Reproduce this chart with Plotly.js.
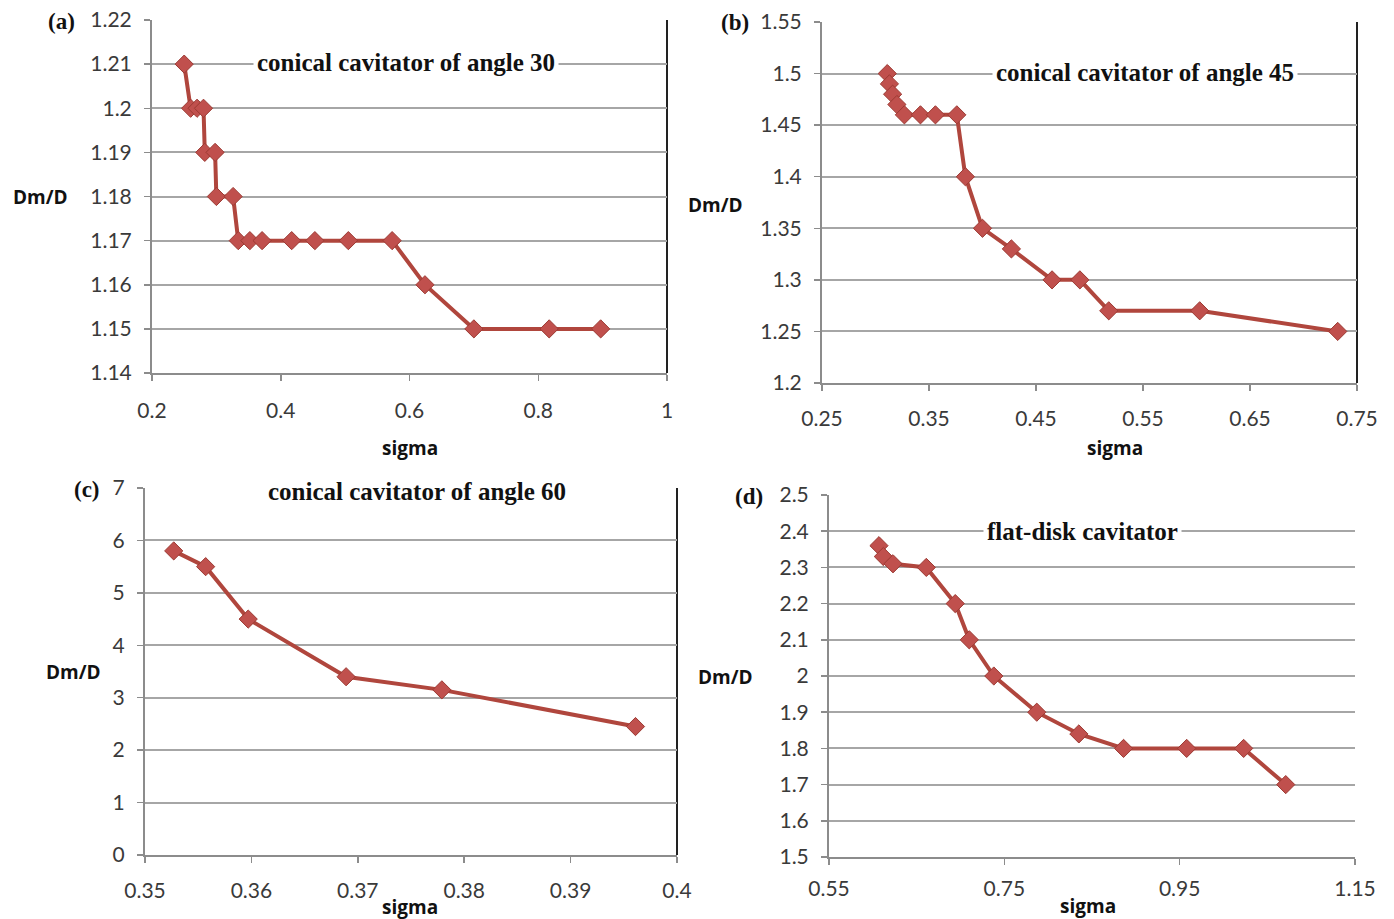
<!DOCTYPE html>
<html>
<head>
<meta charset="utf-8">
<script src="https://cdn.plot.ly/plotly-3.0.1.min.js"></script>
<style>html,body{margin:0;padding:0;background:#fff;} #chart{width:1394px;height:919px;}</style>
</head>
<body>
<div id="chart"></div>
<script>
// Panel (a) conical cavitator of angle 30
const sigmaA = [0.25, 0.26, 0.27, 0.28, 0.282, 0.298, 0.30, 0.326, 0.334, 0.352, 0.371, 0.417, 0.453, 0.505, 0.573, 0.624, 0.70, 0.817, 0.897];
const dmA    = [1.21, 1.20, 1.20, 1.20, 1.19, 1.19, 1.18, 1.18, 1.17, 1.17, 1.17, 1.17, 1.17, 1.17, 1.17, 1.16, 1.15, 1.15, 1.15];
// Panel (b) conical cavitator of angle 45
const sigmaB = [0.311, 0.313, 0.316, 0.320, 0.327, 0.342, 0.356, 0.376, 0.384, 0.400, 0.427, 0.465, 0.491, 0.518, 0.603, 0.732];
const dmB    = [1.50, 1.49, 1.48, 1.47, 1.46, 1.46, 1.46, 1.46, 1.40, 1.35, 1.33, 1.30, 1.30, 1.27, 1.27, 1.25];
// Panel (c) conical cavitator of angle 60
const sigmaC = [0.3527, 0.3557, 0.3597, 0.3689, 0.3779, 0.3961];
const dmC    = [5.80, 5.50, 4.50, 3.40, 3.15, 2.45];
// Panel (d) flat-disk cavitator
const sigmaD = [0.607, 0.612, 0.623, 0.661, 0.694, 0.710, 0.738, 0.787, 0.835, 0.886, 0.958, 1.023, 1.071];
const dmD    = [2.36, 2.33, 2.31, 2.30, 2.20, 2.10, 2.00, 1.90, 1.84, 1.80, 1.80, 1.80, 1.70];

const panelTitles = ["conical cavitator of angle 30", "conical cavitator of angle 45", "conical cavitator of angle 60", "flat-disk cavitator"];
const panelLabels = ["(a)", "(b)", "(c)", "(d)"];
const xLabel = "sigma";
const yLabel = "Dm/D";

const W = 1394, H = 919;
const px = v => v / W;
const py = v => 1 - v / H;

const lineColor = "#b0463d";
const markerColor = "#c0504d";

function trace(x, y, n) {
  return {
    x: x, y: y, type: "scatter", mode: "lines+markers",
    xaxis: "x" + (n === 1 ? "" : n), yaxis: "y" + (n === 1 ? "" : n),
    line: {color: lineColor, width: 4},
    marker: {symbol: "diamond", size: 14, color: markerColor, line: {color: "#9c3a33", width: 1}},
    cliponaxis: false, hoverinfo: "skip"
  };
}

const tickFont = {family: "Lato, 'Open Sans', sans-serif", size: 21, color: "#3a3a3a"};
function xax(dom, range, tick0, dtick, anchor, standoff) {
  return {domain: dom, range: range, tick0: tick0, dtick: dtick, tickmode: "linear",
    showgrid: false, zeroline: false, showline: true, linecolor: "#8c8c8c", linewidth: 2,
    ticks: "outside", ticklen: 6, tickcolor: "#8c8c8c", tickwidth: 1.5,
    tickfont: tickFont, anchor: anchor, fixedrange: true, ticklabelstandoff: standoff};
}
function yax(dom, range, tick0, dtick, anchor) {
  return {domain: dom, range: range, tick0: tick0, dtick: dtick, tickmode: "linear",
    showgrid: true, gridcolor: "#a6a6a6", gridwidth: 2, zeroline: false,
    showline: true, linecolor: "#8c8c8c", linewidth: 2,
    ticks: "outside", ticklen: 6, tickcolor: "#8c8c8c", tickwidth: 1.5,
    tickfont: tickFont, anchor: anchor, fixedrange: true, ticklabelstandoff: 8};
}

const data = [trace(sigmaA, dmA, 1), trace(sigmaB, dmB, 2), trace(sigmaC, dmC, 3), trace(sigmaD, dmD, 4)];

const titleFont = {family: "'Liberation Serif', 'DejaVu Serif', serif", size: 25, color: "#111"};
const labFont = {family: "'Liberation Serif', serif", size: 23, color: "#111"};
const axTitleFont = {family: "'Open Sans', 'DejaVu Sans', sans-serif", size: 19, color: "#111"};

function ann(text, x, y, font, extra) {
  return Object.assign({text: text, x: px(x), y: py(y), xref: "paper", yref: "paper", showarrow: false,
    font: font, xanchor: "center", yanchor: "middle"}, extra || {});
}

const annotations = [
  ann("<b>" + panelTitles[0] + "</b>", 406, 63, titleFont, {bgcolor: "#fff", borderpad: 3}),
  ann("<b>" + panelTitles[1] + "</b>", 1145, 73, titleFont, {bgcolor: "#fff", borderpad: 3}),
  ann("<b>" + panelTitles[2] + "</b>", 417, 491, titleFont, {bgcolor: "#fff", borderpad: 3}),
  ann("<b>" + panelTitles[3] + "</b>", 1082, 531, titleFont, {bgcolor: "#fff", borderpad: 3}),
  ann("<b>" + panelLabels[0] + "</b>", 61, 21, labFont),
  ann("<b>" + panelLabels[1] + "</b>", 735, 22, labFont),
  ann("<b>" + panelLabels[2] + "</b>", 87, 489, labFont),
  ann("<b>" + panelLabels[3] + "</b>", 749, 496, labFont),
  ann("<b>" + yLabel + "</b>", 40, 197, axTitleFont),
  ann("<b>" + yLabel + "</b>", 715, 205, axTitleFont),
  ann("<b>" + yLabel + "</b>", 73, 672, axTitleFont),
  ann("<b>" + yLabel + "</b>", 726, 677, axTitleFont),
  ann("<b>" + xLabel + "</b>", 410, 448, axTitleFont),
  ann("<b>" + xLabel + "</b>", 1115, 448, axTitleFont),
  ann("<b>" + xLabel + "</b>", 410, 907, axTitleFont),
  ann("<b>" + xLabel + "</b>", 1088, 906, axTitleFont)
];

function rightLine(n) {
  const s = n === 1 ? "" : n;
  return {type: "line", xref: "x" + s + " domain", yref: "y" + s + " domain", x0: 1, x1: 1, y0: 0, y1: 1,
    line: {color: "#222", width: 2}, layer: "below"};
}

const layout = {
  width: W, height: H, margin: {l: 0, r: 0, t: 0, b: 0},
  paper_bgcolor: "#fff", plot_bgcolor: "#fff", showlegend: false,
  xaxis:  xax([px(152), px(667)], [0.2, 1], 0.2, 0.2, "y", 12),
  yaxis:  yax([py(373), py(20)], [1.14, 1.22], 1.14, 0.01, "x"),
  xaxis2: xax([px(822), px(1357)], [0.25, 0.75], 0.25, 0.1, "y2", 10),
  yaxis2: yax([py(383), py(22)], [1.2, 1.55], 1.2, 0.05, "x2"),
  xaxis3: xax([px(145), px(677)], [0.35, 0.4], 0.35, 0.01, "y3", 10),
  yaxis3: yax([py(855), py(488)], [0, 7], 0, 1, "x3"),
  xaxis4: xax([px(829), px(1355)], [0.55, 1.15], 0.55, 0.2, "y4", 6),
  yaxis4: yax([py(857), py(495)], [1.5, 2.5], 1.5, 0.1, "x4"),
  annotations: annotations,
  shapes: [rightLine(1), rightLine(2), rightLine(3)]
};

Plotly.newPlot("chart", data, layout, {displayModeBar: false, staticPlot: true});
</script>
</body>
</html>
